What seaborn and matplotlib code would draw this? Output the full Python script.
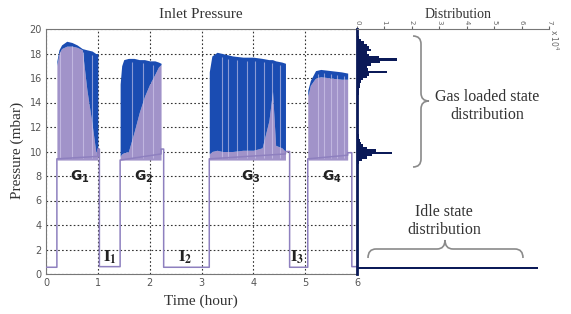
import numpy as np
import pandas as pd
import matplotlib
matplotlib.use("Agg")
import matplotlib.pyplot as plt
from matplotlib.path import Path
from matplotlib.patches import PathPatch
from matplotlib.transforms import IdentityTransform
import seaborn as sns

# lower outline of the inlet pressure trace (hour, mbar)
trace_t = [0, 0.21, 0.21, 1.0, 1.0, 1.03, 1.03, 1.43, 1.43, 2.22, 2.22, 2.27, 2.27,
           3.15, 3.15, 4.62, 4.62, 4.70, 4.70, 5.05, 5.05, 5.82, 5.82, 5.90, 5.90, 6.0]
trace_p = [0.55, 0.55, 9.4, 9.6, 10.2, 10.2, 0.6, 0.6, 9.3, 9.8, 10.2, 10.2, 0.55,
           0.55, 9.4, 9.8, 10.0, 10.0, 0.55, 0.55, 9.4, 9.7, 9.9, 9.9, 0.6, 0.6]

# gas loaded periods: time, upper (blue) envelope, lower (purple) envelope
g1_t = [0.21, 0.25, 0.3, 0.4, 0.5, 0.6, 0.7, 0.79, 0.89, 0.96, 1.0]
g1_blue = [17.4, 18.3, 18.7, 19.0, 18.9, 18.7, 18.4, 18.3, 18.2, 18.0, 18.0]
g1_purple = [17.0, 18.0, 18.4, 18.6, 18.6, 18.5, 18.3, 15.0, 12.2, 10.0, 9.9]

g2_t = [1.43, 1.46, 1.5, 1.59, 1.7, 1.8, 1.9, 2.0, 2.1, 2.17, 2.22]
g2_blue = [15.5, 17.0, 17.5, 17.6, 17.6, 17.5, 17.5, 17.4, 17.4, 17.3, 17.2]
g2_purple = [9.6, 9.8, 9.9, 10.0, 11.6, 13.2, 14.5, 15.5, 16.3, 16.9, 17.1]

g3_t = [3.15, 3.2, 3.3, 3.4, 3.6, 3.8, 4.0, 4.17, 4.3, 4.37, 4.43, 4.55, 4.62]
g3_blue = [16.5, 17.8, 18.1, 18.0, 17.8, 17.7, 17.7, 17.6, 17.5, 17.5, 17.4, 17.3, 17.2]
g3_purple = [9.8, 10.0, 10.1, 10.0, 10.0, 10.1, 10.1, 10.3, 12.5, 14.9, 10.5, 10.3, 10.0]

g4_t = [5.05, 5.1, 5.2, 5.3, 5.5, 5.7, 5.82]
g4_blue = [15.0, 15.8, 16.6, 16.7, 16.6, 16.5, 16.4]
g4_purple = [14.5, 15.4, 16.0, 16.1, 16.0, 15.9, 15.9]

gas_floor = 9.3

# pale gaps between the pressure cycles
gap_times = [0.27, 0.5, 0.71, 0.88, 1.66, 1.88, 2.06, 3.40, 3.52, 3.69, 3.88,
             4.04, 4.20, 4.36, 4.52, 5.24, 5.36, 5.49, 5.62, 5.75]

# pressure distribution (bin centre in mbar, count x 10^4)
hist_p = [0.5, 9.1, 9.3, 9.5, 9.7, 9.9, 10.1, 10.3, 10.5, 10.7, 10.9, 11.1,
          11.3, 11.5, 11.7, 11.9, 12.1, 12.3, 12.5, 12.7, 12.9, 13.1, 13.3, 13.5,
          13.7, 13.9, 14.1, 14.3, 14.5, 14.7, 14.9, 15.1, 15.3, 15.5, 15.7, 15.9,
          16.1, 16.3, 16.5, 16.7, 16.9, 17.1, 17.3, 17.5, 17.7, 17.9, 18.1, 18.3,
          18.5, 18.7, 18.9, 19.1, 19.3]
hist_n = [6.6, 0.08, 0.2, 0.35, 0.55, 1.26, 0.7, 0.35, 0.22, 0.14, 0.1, 0.08,
          0.06, 0.05, 0.05, 0.04, 0.04, 0.04, 0.04, 0.04, 0.04, 0.04, 0.04, 0.04,
          0.04, 0.04, 0.05, 0.05, 0.05, 0.06, 0.07, 0.08, 0.1, 0.12, 0.15, 0.22,
          0.35, 0.45, 1.08, 0.4, 0.35, 0.5, 0.85, 1.45, 0.8, 0.45, 0.35, 0.5,
          0.45, 0.35, 0.25, 0.15, 0.06]

g_labels = ["G_1", "G_2", "G_3", "G_4"]
g_label_t = [0.66, 1.88, 3.95, 5.52]
i_labels = ["I_1", "I_2", "I_3"]
i_label_t = [1.24, 2.69, 4.85]

sns.set_style("white")
plt.rcParams["font.family"] = ["DejaVu Sans"]

blue = "#1a4cb2"
purple = "#a193c9"
navy = "#0b1a58"
serif = ["Liberation Serif", "DejaVu Serif"]

fig = plt.figure(figsize=(5.71, 3.14), dpi=100)
W, H = 571, 314
ax = fig.add_axes([46 / W, 40 / H, 311 / W, 245 / H])
ax2 = fig.add_axes([357 / W, 40 / H, 192 / W, 245 / H])

# main trace
ax.set_axisbelow(True)
ax.grid(True, color="#333333", linestyle=(0, (1.5, 2)), linewidth=0.8)
segments = [(g1_t, g1_blue, g1_purple), (g2_t, g2_blue, g2_purple),
            (g3_t, g3_blue, g3_purple), (g4_t, g4_blue, g4_purple)]
for t, top, mid in segments:
    ax.fill_between(t, gas_floor, mid, color=purple, lw=0, zorder=2)
    ax.fill_between(t, mid, top, color=blue, lw=0, zorder=2)
    gaps = [g for g in gap_times if t[0] < g < t[-1]]
    ax.vlines(gaps, gas_floor + 0.2, np.interp(gaps, t, top) - 0.3,
              color="#d6cfee", lw=0.8, alpha=0.6, zorder=3)
sns.lineplot(x=trace_t, y=trace_p, estimator=None, sort=False, ax=ax,
             color="#8e80bf", lw=1.1, zorder=4)

for lab, t in zip(g_labels, g_label_t):
    ax.text(t, 7.9, r"$\mathbf{" + lab + "}$", ha="center", va="center",
            fontsize=10, color="#222222", math_fontfamily="dejavusans")
for lab, t in zip(i_labels, i_label_t):
    ax.text(t, 1.4, r"$\mathbf{" + lab + "}$", ha="center", va="center",
            fontsize=12, color="#222222", math_fontfamily="stix")

ax.set_xlim(0, 6)
ax.set_ylim(0, 20)
ax.set_xticks(range(0, 7))
ax.set_yticks(range(0, 21, 2))
ax.tick_params(labelsize=7, colors="#555555", length=3, direction="in", pad=3)
for s in ax.spines.values():
    s.set_color("#777777")
    s.set_linewidth(0.8)
ax.set_xlabel("")
ax.set_ylabel("")

# distribution
dist = pd.DataFrame({"pressure": hist_p, "count": [n * 1e4 for n in hist_n]})
bin_edges = [round(0.4 + 0.2 * i, 2) for i in range(96)]
sns.histplot(data=dist, y="pressure", weights="count", bins=bin_edges,
             color=navy, alpha=1, linewidth=0, ax=ax2)
ax2.set_ylim(0, 20)
ax2.set_xlim(0, 7e4)
ax2.set_xlabel("")
ax2.set_ylabel("")
ax2.xaxis.tick_top()
ax2.set_xticks(np.arange(0, 8) * 1e4)
ax2.set_xticklabels([str(i) for i in range(8)], rotation=-90)
ax2.set_yticks([])
ax2.tick_params(axis="x", labelsize=5, colors="#666666", length=2, pad=1)
ax2.spines["right"].set_visible(False)
ax2.spines["bottom"].set_visible(False)
ax2.spines["top"].set_color("#777777")
ax2.spines["top"].set_linewidth(0.8)
ax2.spines["left"].set_color(navy)
ax2.spines["left"].set_linewidth(2)
ax2.patch.set_alpha(0)

# titles and labels
def px(x, y):
    return x / W, 1 - y / H

fig.text(*px(201, 14), "Inlet Pressure", ha="center", va="center",
         fontsize=11, family=serif, color="#333333")
fig.text(*px(458, 14), "Distribution", ha="center", va="center",
         fontsize=10, family=serif, color="#333333")
fig.text(*px(554, 40), r"x 10$^4$", ha="center", va="center", rotation=-90,
         fontsize=5.5, color="#666666")
fig.text(*px(201, 301), "Time (hour)", ha="center", va="center",
         fontsize=11, family=serif, color="#333333")
fig.text(*px(17, 150), "Pressure (mbar)", ha="center", va="center",
         rotation=90, fontsize=11, family=serif, color="#333333")
fig.text(*px(487, 106), "Gas loaded state\ndistribution", ha="center",
         va="center", fontsize=11.5, family=serif, color="#333333",
         linespacing=1.15)
fig.text(*px(444, 221), "Idle state\ndistribution", ha="center",
         va="center", fontsize=11.5, family=serif, color="#333333",
         linespacing=1.15)

# curly braces (pixel coordinates)
def brace(verts):
    v = [(x, H - y) for x, y in verts]
    codes = [Path.MOVETO, Path.CURVE3, Path.CURVE3, Path.LINETO, Path.CURVE3,
             Path.CURVE3, Path.CURVE3, Path.CURVE3, Path.LINETO, Path.CURVE3,
             Path.CURVE3]
    fig.patches.append(PathPatch(Path(v, codes), fill=False, ec="#8a8a8a",
                                 lw=1.2, transform=IdentityTransform(),
                                 figure=fig))

brace([(413, 36), (421, 36), (421, 44), (421, 93), (421, 101), (429, 101),
       (421, 101), (421, 109), (421, 159), (421, 167), (413, 167)])
brace([(368, 258), (368, 249), (376, 249), (437, 249), (445, 249), (445, 240),
       (445, 249), (453, 249), (515, 249), (523, 249), (523, 258)])

fig.savefig("out.png", dpi=100)
